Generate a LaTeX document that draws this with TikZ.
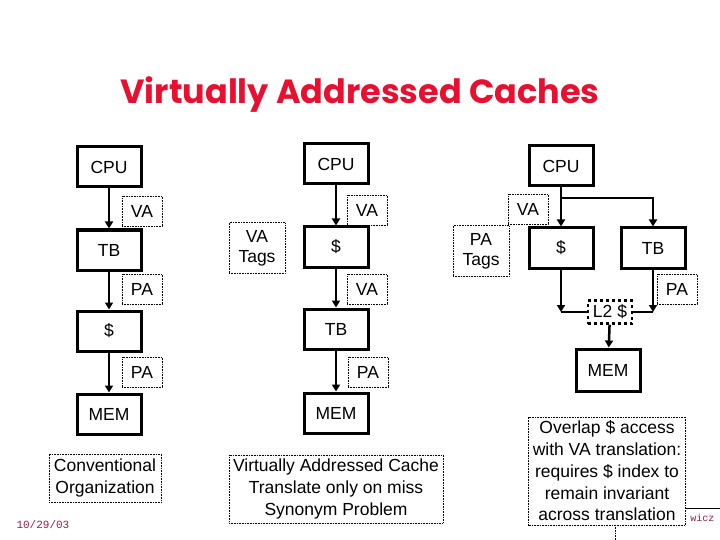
\documentclass[tikz,border=0pt]{standalone}
\usepackage{fontspec}
\setmainfont{Liberation Sans}
\newfontfamily\titlefont{Poppins}
\newfontfamily\datefont{Liberation Mono}
\usetikzlibrary{arrows.meta, calc}

\definecolor{titlered}{RGB}{232,16,48}
\definecolor{datered}{RGB}{150,30,70}

\tikzset{
  unit/.style={draw, line width=3pt, minimum width=64pt, minimum height=40pt,
    inner sep=0pt, font=\fontsize{17.5}{20}\selectfont},
  tag/.style={draw, line width=0.6pt, densely dotted, fill=white, inner sep=0pt,
    minimum width=40pt, minimum height=30pt, align=center,
    font=\fontsize{17.5}{20}\selectfont},
  note/.style={draw, line width=0.6pt, densely dotted, fill=white, inner sep=5pt,
    align=center, font=\fontsize{17.5}{21.8}\selectfont},
  bus/.style={line width=2.5pt},
  flow/.style={bus, -{Triangle[length=7pt,width=8pt]}},
}

\begin{document}
\begin{tikzpicture}[x=1pt, y=-1pt]
  \useasboundingbox (0,0) rectangle (720,540);

  % ── Title ─────────────────────────────────────────────────────────
  \node[text=titlered, font=\titlefont\bfseries\fontsize{33.5}{38}\selectfont]
    (title) at (360,95) {Virtually Addressed Caches};

  % ── Conventional organization ─────────────────────────────────────
  \node[unit] (cpu1)   at (109,167) {CPU};
  \node[unit] (tb1)    at (109,250) {TB};
  \node[unit] (cache1) at (109,331) {\$};
  \node[unit] (mem1)   at (109,414) {MEM};

  \draw[flow] (cpu1)   -- (tb1);
  \draw[flow] (tb1)    -- (cache1);
  \draw[flow] (cache1) -- (mem1);

  \node[tag] (va1) at (142,211) {VA};
  \node[tag] (pa1) at (142,289) {PA};
  \node[tag] (pa2) at (142,372) {PA};

  \node[note] (conv) at (105,478) {Conventional\\Organization};

  % ── Virtually addressed cache ─────────────────────────────────────
  \node[unit] (cpu2)   at (336,164) {CPU};
  \node[unit] (cache2) at (336,247) {\$};
  \node[unit] (tb2)    at (336,329) {TB};
  \node[unit] (mem2)   at (336,413) {MEM};

  \draw[flow] (cpu2)   -- (cache2);
  \draw[flow] (cache2) -- (tb2);
  \draw[flow] (tb2)    -- (mem2);

  \node[tag] (va2) at (367,210) {VA};
  \node[tag] (va3) at (367,289) {VA};
  \node[tag] (pa3) at (368,372) {PA};
  \node[tag, minimum width=56pt, minimum height=51pt] (vatags) at (257,248) {VA\\Tags};

  \node[note, inner sep=4pt] (vac) at (336,489)
    {Virtually Addressed Cache\\Translate only on miss\\Synonym Problem};

  % ── Overlapped access ─────────────────────────────────────────────
  \node[unit] (cpu3)   at (561,166) {CPU};
  \node[unit] (cache3) at (561,248) {\$};
  \node[unit] (tb3)    at (653,248) {TB};
  \node[unit, line width=2.5pt, dashed, minimum width=44pt, minimum height=23pt]
    (l2) at (610,312) {L2 \$};
  \node[unit, minimum height=42pt] (mem3) at (608,370) {MEM};

  \coordinate (fork)  at (561,198);
  \coordinate (joinL) at (561,312);
  \coordinate (joinR) at (653,312);

  \draw[flow] (cpu3) -- (cache3);
  \draw[flow] (fork) -| (tb3);
  \draw[flow] (cache3) -- (joinL);
  \draw[bus]  (joinL) -- (l2);
  \draw[flow] (tb3) -- (joinR);
  \draw[bus]  (joinR) -- (l2);
  \draw[flow] (l2) -- (mem3);

  \node[tag] (va4) at (528,209) {VA};
  \node[tag] (pa4) at (677,289) {PA};
  \node[tag, minimum width=56pt, minimum height=51pt] (patags) at (481,251) {PA\\Tags};

  % ── Footer ────────────────────────────────────────────────────────
  \node[anchor=west, text=datered, font=\datefont\fontsize{11}{12}\selectfont]
    (date) at (13,525) {10/29/03};
  \draw[line width=0.6pt, densely dotted] (615,540) -- (615,508);
  \draw[line width=0.6pt] (615,508) -- (720,508);
  \node[anchor=east, text=datered, font=\datefont\fontsize{10}{11}\selectfont]
    (author) at (718,518) {wicz};

  \node[note, inner sep=4pt] (overlap) at (607,471)
    {Overlap \$ access\\with VA translation:\\requires \$ index to\\remain invariant\\across translation};
\end{tikzpicture}
\end{document}
